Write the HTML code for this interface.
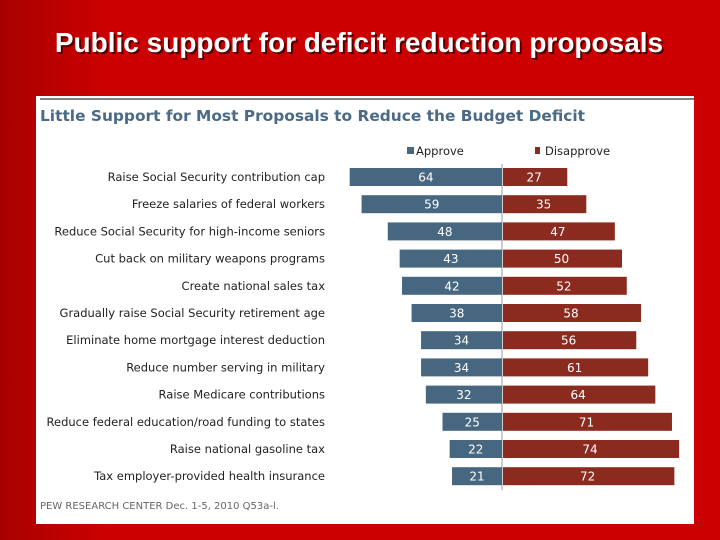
<!DOCTYPE html>
<html><head><meta charset="utf-8"><style>
body{margin:0;width:720px;height:540px;overflow:hidden;background:#c00000;}
svg{display:block;font-family:"DejaVu Sans","Liberation Sans",sans-serif;}
</style></head><body>
<svg id="c" width="720" height="540">
<defs><linearGradient id="bg" x1="0" y1="0" x2="1" y2="0">
<stop offset="0" stop-color="#a80000"/><stop offset="0.15" stop-color="#cc0000"/><stop offset="1" stop-color="#cc0000"/></linearGradient></defs>
<rect width="720" height="540" fill="url(#bg)"/>
<text x="361" y="54" text-anchor="middle" font-family="Liberation Sans" font-weight="bold" font-size="28" fill="#500">Public support for deficit reduction proposals</text>
<text x="359" y="52" text-anchor="middle" font-family="Liberation Sans" font-weight="bold" font-size="28" fill="#fff">Public support for deficit reduction proposals</text>
<rect x="36" y="96" width="658" height="428" fill="#fff"/>
<line x1="40" y1="99" x2="694" y2="99" stroke="#000" stroke-width="1"/>
<text x="40" y="121" font-size="15.4" font-weight="bold" fill="#4a6a85">Little Support for Most Proposals to Reduce the Budget Deficit</text>
<rect x="407" y="147" width="7" height="7" fill="#46677f"/>
<text x="416" y="155" font-size="11.5" fill="#222">Approve</text>
<rect x="535" y="147" width="5" height="7" fill="#8b2a1f"/>
<text x="545" y="155" font-size="11.5" fill="#222">Disapprove</text>
<line x1="502" y1="164" x2="502" y2="490" stroke="#999" stroke-width="1"/>
<g id="rows"></g>
<text x="40" y="509" font-size="10" fill="#666">PEW RESEARCH CENTER Dec. 1-5, 2010 Q53a-l.</text>
</svg>
<script>
const categories=["Raise Social Security contribution cap","Freeze salaries of federal workers","Reduce Social Security for high-income seniors","Cut back on military weapons programs","Create national sales tax","Gradually raise Social Security retirement age","Eliminate home mortgage interest deduction","Reduce number serving in military","Raise Medicare contributions","Reduce federal education/road funding to states","Raise national gasoline tax","Tax employer-provided health insurance"];
const approve=[64,59,48,43,42,38,34,34,32,25,22,21];
const disapprove=[27,35,47,50,52,58,56,61,64,71,74,72];
const cx=502, k=2.38, y0=177, step=27.2, bh=18;
const x=v=>v*k, y=i=>y0+i*step;
const g=document.getElementById('rows'), NS="http://www.w3.org/2000/svg";
function mk(t,a){const e=document.createElementNS(NS,t);for(const n in a)e.setAttribute(n,a[n]);g.appendChild(e);return e;}
categories.forEach((c,i)=>{
 const cy=y(i);
 const l=mk('text',{x:325,y:cy+4,'text-anchor':'end','font-size':11.5,fill:'#222'});l.textContent=c;
 
 
 const a=mk('rect',{x:cx-x(approve[i]),y:cy-bh/2,width:x(approve[i]),height:bh,fill:'#46677f'});
 
 
 const d=mk('rect',{x:cx+1,y:cy-bh/2,width:x(disapprove[i]),height:bh,fill:'#8b2a1f'});
 
 
 const at=mk('text',{x:cx-x(approve[i])/2,y:cy+4.5,'text-anchor':'middle','font-size':12,fill:'#fff'});at.textContent=approve[i];
 
 
 const dt=mk('text',{x:cx+x(disapprove[i])/2,y:cy+4.5,'text-anchor':'middle','font-size':12,fill:'#fff'});dt.textContent=disapprove[i];
 
 
});
</script>
</body></html>
